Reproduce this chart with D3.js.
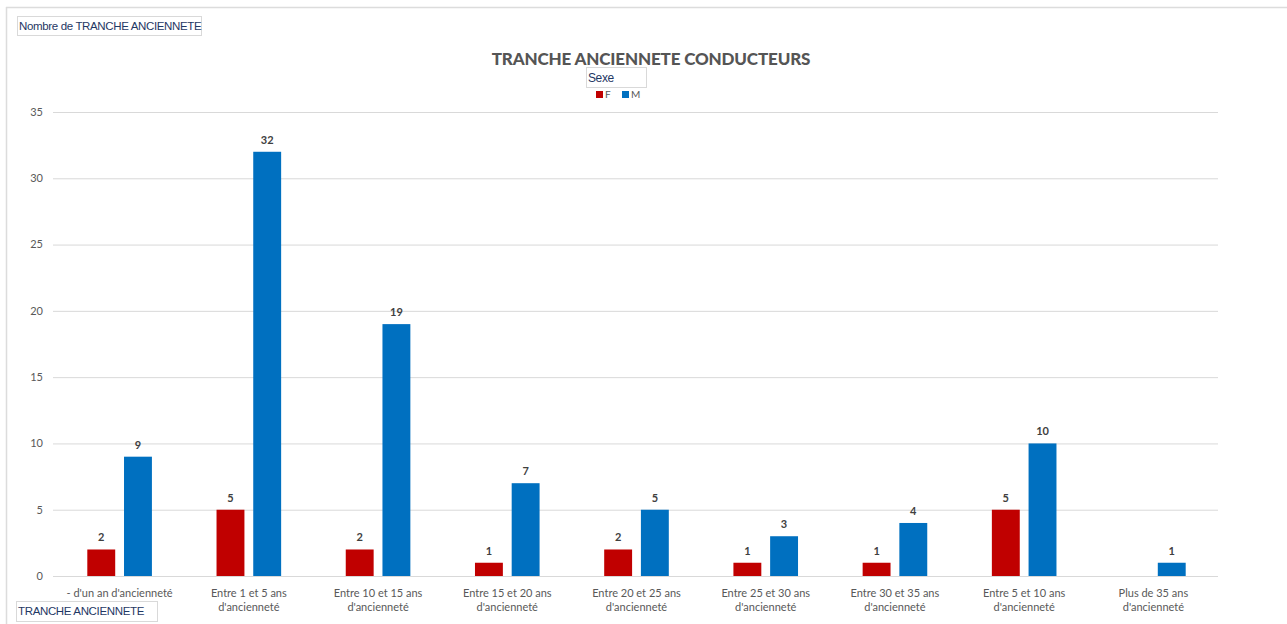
<!DOCTYPE html>
<html>
<head>
<meta charset="utf-8">
<script src="https://cdn.jsdelivr.net/npm/d3@7"></script>
<style>
  body { margin: 0; background: #fff; }
  svg text { font-family: Lato, "Liberation Sans", sans-serif; }
</style>
</head>
<body>
<div id="chart"></div>
<script>
var categories = ["- d'un an d'ancienneté", "Entre 1 et 5 ans d'ancienneté", "Entre 10 et 15 ans d'ancienneté",
    "Entre 15 et 20 ans d'ancienneté", "Entre 20 et 25 ans d'ancienneté", "Entre 25 et 30 ans d'ancienneté",
    "Entre 30 et 35 ans d'ancienneté", "Entre 5 et 10 ans d'ancienneté", "Plus de 35 ans d'ancienneté"]
var series = ["F", "M"]
var valuesF = [2, 5, 2, 1, 2, 1, 1, 5, null]
var valuesM = [9, 32, 19, 7, 5, 3, 4, 10, 1]
var yTicks = [0, 5, 10, 15, 20, 25, 30, 35]

var W = 1287, H = 624
var margin = { top: 112, right: 69, bottom: 48, left: 53 }
var colors = { F: "#C00000", M: "#0070C0" }

var data = categories.map(function (c, i) {
    return { cat: c, F: valuesF[i], M: valuesM[i] }
})

var svg = d3.select("#chart").append("svg")
    .attr("width", W).attr("height", H)

// outer frame (left + top border only visible)
svg.append("line").attr("x1", 6).attr("x2", W).attr("y1", 7.5).attr("y2", 7.5)
    .attr("stroke", "#dcdcdc").attr("stroke-width", 1.5)
svg.append("line").attr("x1", 6.5).attr("x2", 6.5).attr("y1", 7).attr("y2", H)
    .attr("stroke", "#dcdcdc").attr("stroke-width", 1.5)

var x0 = d3.scaleBand().domain(categories)
    .range([margin.left + 2, W - margin.right])
    .paddingInner(0.5).paddingOuter(0.25)
var x1 = d3.scaleBand().domain(series)
    .range([0, x0.bandwidth()])
    .paddingInner(0.24)
var y = d3.scaleLinear().domain([0, 35]).range([H - margin.bottom, margin.top])

var step = x0.step()
var gridX0 = margin.left, gridX1 = W - margin.right

// grid
svg.append("g").selectAll("line").data(yTicks).enter().append("line")
    .attr("x1", gridX0).attr("x2", gridX1)
    .attr("y1", d => y(d) + 0.5).attr("y2", d => y(d) + 0.5)
    .attr("stroke", "#d9d9d9").attr("stroke-width", 1)

// y tick labels
svg.append("g").selectAll("text").data(yTicks).enter().append("text")
    .attr("x", 43).attr("y", d => y(d)).attr("dy", "0.35em")
    .attr("text-anchor", "end")
    .style("font-size", "11px").style("fill", "#595959")
    .text(d => d)

// bars
var groups = svg.append("g").selectAll("g").data(data).enter().append("g")
    .attr("transform", d => "translate(" + x0(d.cat) + ",0)")

groups.selectAll("rect")
    .data(d => series.map(s => ({ key: s, value: d[s] })).filter(e => e.value != null))
    .enter().append("rect")
    .attr("x", d => x1(d.key))
    .attr("y", d => y(d.value))
    .attr("width", x1.bandwidth())
    .attr("height", d => y(0) - y(d.value))
    .attr("fill", d => colors[d.key])

groups.selectAll("text")
    .data(d => series.map(s => ({ key: s, value: d[s] })).filter(e => e.value != null))
    .enter().append("text")
    .attr("x", d => x1(d.key) + x1.bandwidth() / 2)
    .attr("y", d => y(d.value) - 8)
    .attr("text-anchor", "middle")
    .style("font-size", "11px").style("font-weight", "bold").style("fill", "#404040")
    .text(d => d.value)

// category labels with wrapping
var catLabels = svg.append("g").selectAll("text").data(categories).enter().append("text")
    .attr("x", d => x0(d) + x0.bandwidth() / 2)
    .attr("y", 597)
    .attr("text-anchor", "middle")
    .style("font-size", "11px").style("fill", "#595959")

catLabels.each(function (d) {
    var t = d3.select(this), words = d.split(" "), line = []
    var tspan = t.append("tspan").attr("x", t.attr("x")).attr("dy", 0)
    words.forEach(function (w) {
        line.push(w)
        tspan.text(line.join(" "))
        if (tspan.node().getComputedTextLength() > step - 20 && line.length > 1) {
            line.pop()
            tspan.text(line.join(" "))
            line = [w]
            tspan = t.append("tspan").attr("x", t.attr("x")).attr("dy", "1.3em").text(w)
        }
    })
})

// title
svg.append("text")
    .attr("x", 651).attr("y", 65)
    .attr("text-anchor", "middle")
    .style("font-size", "17px").style("font-weight", "900").style("fill", "#555555")
    .style("letter-spacing", "-0.15px")
    .text("TRANCHE ANCIENNETE CONDUCTEURS")

// legend
var leg = svg.append("g")
leg.append("rect").attr("x", 586.5).attr("y", 67.5).attr("width", 60).attr("height", 20)
    .attr("fill", "#fff").attr("stroke", "#d9d9d9")
leg.append("text").attr("x", 588).attr("y", 82)
    .style("font-family", "'Liberation Sans', sans-serif")
    .style("font-size", "12px").style("fill", "#1f3864").style("letter-spacing", "-0.4px").text("Sexe")
var legItems = leg.selectAll("g.item").data(series).enter().append("g").attr("class", "item")
    .attr("transform", (d, i) => "translate(" + (596 + i * 26) + ",91)")
legItems.append("rect").attr("width", 7).attr("height", 7).attr("fill", d => colors[d])
legItems.append("text").attr("x", 9).attr("y", 6.5)
    .style("font-size", "10px").style("fill", "#595959").text(d => d)

// field buttons
function fieldBox(x, yy, w, h, label) {
    svg.append("rect").attr("x", x + 0.5).attr("y", yy + 0.5).attr("width", w).attr("height", h)
        .attr("fill", "#fff").attr("stroke", "#d9d9d9")
    svg.append("text").attr("x", x + 2).attr("y", yy + h / 2 + 4)
        .style("font-family", "'Liberation Sans', sans-serif")
        .style("font-size", "11.5px").style("fill", "#1f3864").style("letter-spacing", "-0.35px")
        .text(label)
}
fieldBox(17, 16, 184, 19, "Nombre de TRANCHE ANCIENNETE")
fieldBox(16, 601, 141, 20, "TRANCHE ANCIENNETE")
</script>
</body>
</html>
